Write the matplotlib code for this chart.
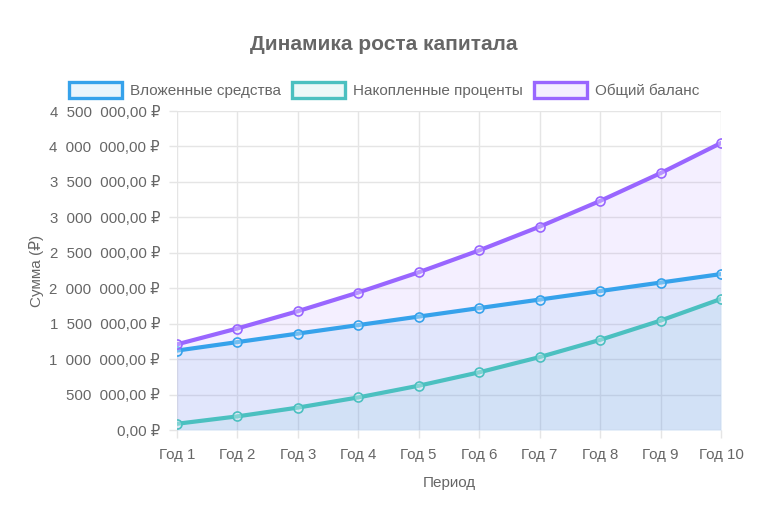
import matplotlib
matplotlib.use("Agg")
import matplotlib.pyplot as plt
import matplotlib.patches as patches
from matplotlib.ticker import FuncFormatter, MultipleLocator

plt.rcParams['font.family'] = ['Liberation Sans', 'DejaVu Sans']

# data
periods = ['Год 1', 'Год 2', 'Год 3', 'Год 4', 'Год 5', 'Год 6', 'Год 7', 'Год 8', 'Год 9', 'Год 10']
invested = [1120000, 1240000, 1360000, 1480000, 1600000, 1720000, 1840000, 1960000, 2080000, 2200000]
interest = [87500, 192000, 315700, 459400, 624600, 813700, 1028500, 1271300, 1543800, 1849100]
balance = [1207500, 1432000, 1675700, 1939400, 2224600, 2533700, 2868500, 3231300, 3623800, 4049100]

labels = ['Вложенные средства', 'Накопленные проценты', 'Общий баланс']
colors = ['#36A2EB', '#4BC0C0', '#9966FF']
series = [invested, interest, balance]

text_col = '#666666'
grid_col = '#e5e5e5'

fig = plt.figure(figsize=(7.68, 5.14), dpi=100)
ax = fig.add_axes([0.2301, 0.1634, 0.7087, 0.6206])

x = list(range(len(periods)))
for vals, c in zip(series, colors):
    ax.fill_between(x, 0, vals, color=c, alpha=0.1, linewidth=0, zorder=1)
for vals, c in zip(series, colors):
    ax.plot(x, vals, color=c, linewidth=3, zorder=3)
    ax.plot(x, vals, linestyle='none', marker='o', markersize=6.5,
            markerfacecolor=(1, 1, 1, 0.3), markeredgecolor=c, markeredgewidth=1.2, zorder=4)

ax.set_xlim(0, len(periods) - 1)
ax.set_ylim(0, 4500000)
ax.set_xticks(x)
ax.set_xticklabels(periods)
ax.yaxis.set_major_locator(MultipleLocator(500000))


def rub(v, pos):
    s = '{:,.2f}'.format(v).replace(',', '  ').replace('.', ',')
    return s + ' ₽'


ax.yaxis.set_major_formatter(FuncFormatter(rub))
ax.grid(True, color=grid_col, linewidth=1, zorder=0)
ax.set_axisbelow(True)
for s in ax.spines.values():
    s.set_visible(False)
ax.tick_params(axis='both', colors=grid_col, labelcolor=text_col, labelsize=10.8,
               length=6, width=1)
ax.tick_params(axis='x', pad=7)
ax.tick_params(axis='y', pad=6)

ax.set_xlabel('Период', color=text_col, fontsize=11, labelpad=10)
ax.set_ylabel('Сумма (₽)', color=text_col, fontsize=11, labelpad=4)

fig.text(0.5, 1 - 45 / 514, 'Динамика роста капитала', ha='center', va='center',
         fontsize=15, fontweight='bold', color=text_col)

handles = [patches.Rectangle((0, 0), 1, 1, facecolor=c, edgecolor=c, linewidth=2.4)
           for c in colors]
for h, c in zip(handles, colors):
    h.set_facecolor(matplotlib.colors.to_rgba(c, 0.1))
leg = fig.legend(handles, labels, loc='center', bbox_to_anchor=(0.5, 1 - 90 / 514),
                 ncol=3, frameon=False, fontsize=11, handlelength=3.5, handleheight=1.25,
                 handletextpad=0.5, columnspacing=0.72)
for t in leg.get_texts():
    t.set_color(text_col)

fig.savefig('out.png', dpi=100)
